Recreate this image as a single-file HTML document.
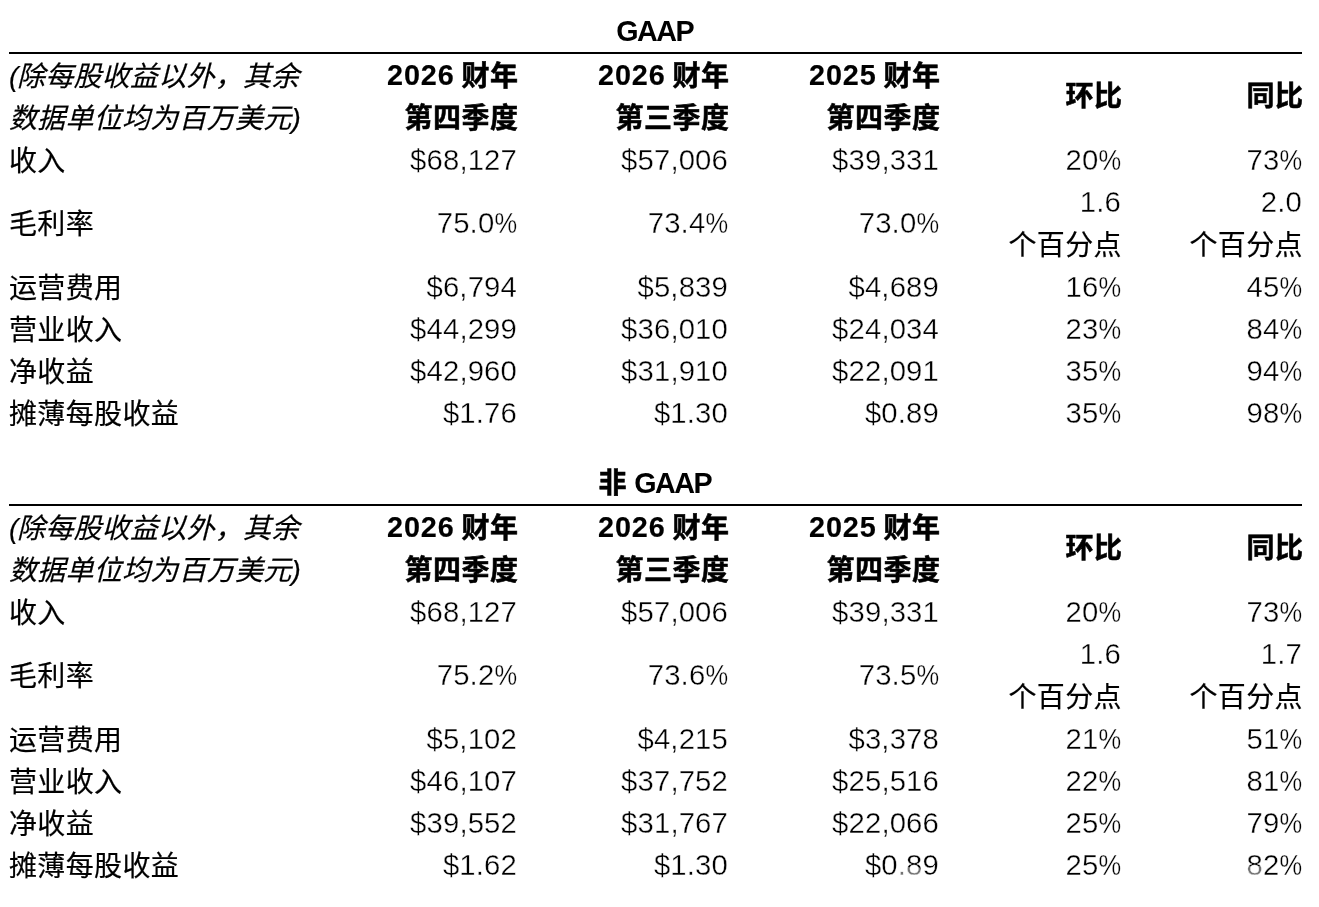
<!DOCTYPE html>
<html lang="zh-CN"><head><meta charset="utf-8"><title>GAAP</title>
<style>
html,body{margin:0;padding:0;background:#fff;}
body{width:1319px;height:907px;position:relative;overflow:hidden;color:#000;
 font-family:"Liberation Sans","Noto Sans CJK SC",sans-serif;font-size:28px;line-height:42px;}
.title{position:absolute;left:0;width:1311px;text-align:center;font-weight:bold;height:42px;white-space:nowrap;}
.rule{position:absolute;left:9px;width:1293px;height:2px;background:#000;}
.row{position:absolute;left:0;width:1319px;height:42px;white-space:nowrap;}
.c{position:absolute;top:0;height:42px;text-align:right;white-space:nowrap;}
.l{-webkit-text-stroke:.2px #000;letter-spacing:.35px;position:absolute;top:2px;left:9px;height:42px;white-space:nowrap;}
.it{font-style:italic;letter-spacing:.25px;}
.l.it{top:1.4px;}
.pl{margin-right:-1.5px;}
.b{font-weight:bold;letter-spacing:.5px;margin-right:-.5px;-webkit-text-stroke:.55px #000;}
.f{-webkit-text-stroke:.55px #000;}
.w{position:absolute;background:rgba(255,255,255,.45);border-radius:4px;}
.k{position:relative;top:.8px;}
.k2{top:.8px;}
.k3{top:.5px;}
.u{-webkit-text-stroke:.2px #000;letter-spacing:.4px;margin-right:-2px;top:1px;}
.n{font-size:29.3px;letter-spacing:.15px;margin-right:-1px;-webkit-text-stroke:.35px #fff;}
.b .n{-webkit-text-stroke:.15px #000;}
.b .n{font-size:28.8px;letter-spacing:.9px;margin-right:-1.5px;}
.g{font-size:28.7px;letter-spacing:-1.5px;margin-right:1.5px;}
.p{display:inline-block;transform:scaleX(.87);transform-origin:100% 50%;margin-left:-3.4px;letter-spacing:0;}
.bx{margin-right:-2px;}
</style></head>
<body>
<div class="title" style="top:10px"><span class="g">GAAP</span></div>
<div class="rule" style="top:52px"></div>
<div class="row" style="top:54.8px"><span class="l it"><span class="pl">(</span>除每股收益以外，其余</span></div>
<div class="row" style="top:54.0px"><span class="c b" style="right:801px;"><span class="n">2026</span> <span class="k">财年</span></span><span class="c b" style="right:590px;"><span class="n">2026</span> <span class="k">财年</span></span><span class="c b" style="right:379px;"><span class="n">2025</span> <span class="k">财年</span></span></div>
<div class="row" style="top:97.05px"><span class="l it">数据单位均为百万美元)</span><span class="c b k2" style="right:801px;">第四季度</span><span class="c b k2" style="right:590px;">第三季度</span><span class="c b k2" style="right:379px;">第四季度</span></div>
<div class="row" style="top:75.9px"><span class="c b k3" style="right:197px;">环比</span><span class="c b k3" style="right:16px;">同比</span></div>
<div class="row" style="top:139px"><span class="l ">收入</span><span class="c n" style="right:803px;">$68,127</span><span class="c n" style="right:592px;">$57,006</span><span class="c n" style="right:381px;">$39,331</span><span class="c n" style="right:199px;">20<span class="p">%</span></span><span class="c n" style="right:18px;">73<span class="p">%</span></span></div>
<div class="row" style="top:202px"><span class="l ">毛利率</span><span class="c n" style="right:803px;">75.0<span class="p">%</span></span><span class="c n" style="right:592px;">73.4<span class="p">%</span></span><span class="c n" style="right:381px;">73.0<span class="p">%</span></span></div>
<div class="row" style="top:181px"><span class="c n" style="right:199px;">1.6</span><span class="c n" style="right:18px;">2.0</span></div>
<div class="row" style="top:224px"><span class="c u" style="right:199px;">个百分点</span><span class="c u" style="right:18px;">个百分点</span></div>
<div class="row" style="top:266px"><span class="l ">运营费用</span><span class="c n" style="right:803px;">$6,794</span><span class="c n" style="right:592px;">$5,839</span><span class="c n" style="right:381px;">$4,689</span><span class="c n" style="right:199px;">16<span class="p">%</span></span><span class="c n" style="right:18px;">45<span class="p">%</span></span></div>
<div class="row" style="top:308px"><span class="l ">营业收入</span><span class="c n" style="right:803px;">$44,299</span><span class="c n" style="right:592px;">$36,010</span><span class="c n" style="right:381px;">$24,034</span><span class="c n" style="right:199px;">23<span class="p">%</span></span><span class="c n" style="right:18px;">84<span class="p">%</span></span></div>
<div class="row" style="top:350px"><span class="l ">净收益</span><span class="c n" style="right:803px;">$42,960</span><span class="c n" style="right:592px;">$31,910</span><span class="c n" style="right:381px;">$22,091</span><span class="c n" style="right:199px;">35<span class="p">%</span></span><span class="c n" style="right:18px;">94<span class="p">%</span></span></div>
<div class="row" style="top:392px"><span class="l ">摊薄每股收益</span><span class="c n" style="right:803px;">$1.76</span><span class="c n" style="right:592px;">$1.30</span><span class="c n" style="right:381px;">$0.89</span><span class="c n" style="right:199px;">35<span class="p">%</span></span><span class="c n" style="right:18px;">98<span class="p">%</span></span></div>
<div class="title" style="top:462px"><span class="f">非</span> <span class="g">GAAP</span></div>
<div class="rule" style="top:504px"></div>
<div class="row" style="top:506.8px"><span class="l it"><span class="pl">(</span>除每股收益以外，其余</span></div>
<div class="row" style="top:506.0px"><span class="c b" style="right:801px;"><span class="n">2026</span> <span class="k">财年</span></span><span class="c b" style="right:590px;"><span class="n">2026</span> <span class="k">财年</span></span><span class="c b" style="right:379px;"><span class="n">2025</span> <span class="k">财年</span></span></div>
<div class="row" style="top:549.05px"><span class="l it">数据单位均为百万美元)</span><span class="c b k2" style="right:801px;">第四季度</span><span class="c b k2" style="right:590px;">第三季度</span><span class="c b k2" style="right:379px;">第四季度</span></div>
<div class="row" style="top:527.9px"><span class="c b k3" style="right:197px;">环比</span><span class="c b k3" style="right:16px;">同比</span></div>
<div class="row" style="top:591px"><span class="l ">收入</span><span class="c n" style="right:803px;">$68,127</span><span class="c n" style="right:592px;">$57,006</span><span class="c n" style="right:381px;">$39,331</span><span class="c n" style="right:199px;">20<span class="p">%</span></span><span class="c n" style="right:18px;">73<span class="p">%</span></span></div>
<div class="row" style="top:654px"><span class="l ">毛利率</span><span class="c n" style="right:803px;">75.2<span class="p">%</span></span><span class="c n" style="right:592px;">73.6<span class="p">%</span></span><span class="c n" style="right:381px;">73.5<span class="p">%</span></span></div>
<div class="row" style="top:633px"><span class="c n" style="right:199px;">1.6</span><span class="c n" style="right:18px;">1.7</span></div>
<div class="row" style="top:676px"><span class="c u" style="right:199px;">个百分点</span><span class="c u" style="right:18px;">个百分点</span></div>
<div class="row" style="top:718px"><span class="l ">运营费用</span><span class="c n" style="right:803px;">$5,102</span><span class="c n" style="right:592px;">$4,215</span><span class="c n" style="right:381px;">$3,378</span><span class="c n" style="right:199px;">21<span class="p">%</span></span><span class="c n" style="right:18px;">51<span class="p">%</span></span></div>
<div class="row" style="top:760px"><span class="l ">营业收入</span><span class="c n" style="right:803px;">$46,107</span><span class="c n" style="right:592px;">$37,752</span><span class="c n" style="right:381px;">$25,516</span><span class="c n" style="right:199px;">22<span class="p">%</span></span><span class="c n" style="right:18px;">81<span class="p">%</span></span></div>
<div class="row" style="top:802px"><span class="l ">净收益</span><span class="c n" style="right:803px;">$39,552</span><span class="c n" style="right:592px;">$31,767</span><span class="c n" style="right:381px;">$22,066</span><span class="c n" style="right:199px;">25<span class="p">%</span></span><span class="c n" style="right:18px;">79<span class="p">%</span></span></div>
<div class="row" style="top:844px"><span class="l ">摊薄每股收益</span><span class="c n" style="right:803px;">$1.62</span><span class="c n" style="right:592px;">$1.30</span><span class="c n" style="right:381px;">$0.89</span><span class="c n" style="right:199px;">25<span class="p">%</span></span><span class="c n" style="right:18px;">82<span class="p">%</span></span></div>
<div class="w" style="left:900px;top:867px;width:21px;height:11px"></div>
<div class="w" style="left:1246px;top:866px;width:17px;height:12px"></div>
</body></html>
